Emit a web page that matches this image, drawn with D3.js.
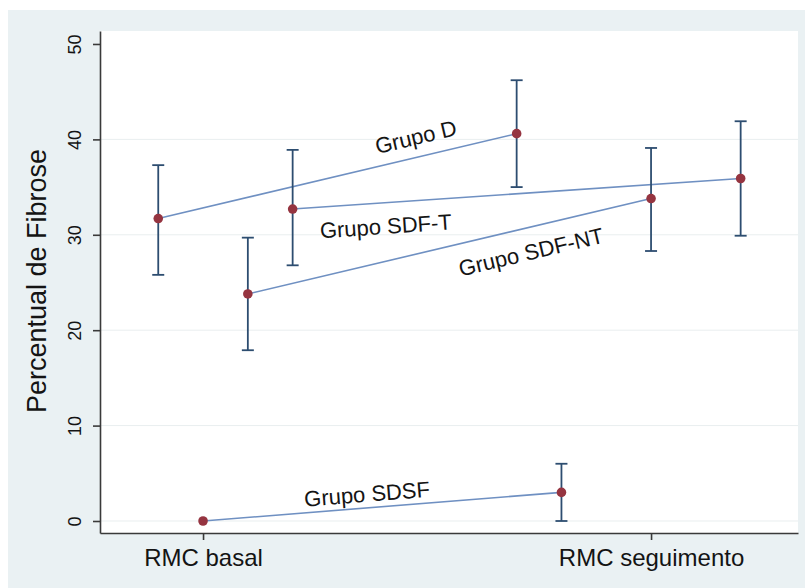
<!DOCTYPE html>
<html>
<head>
<meta charset="utf-8">
<script src="https://cdn.jsdelivr.net/npm/d3@7"></script>
<style>
  body { margin: 0; background: #fff; }
  text { font-family: "Liberation Sans", Arial, sans-serif; fill: #141414; }
</style>
</head>
<body>
<div id="chart"></div>
<script>
// groups and their values (percentual de fibrose, mean with lower/upper CI)
var groups = ["Grupo D", "Grupo SDF-T", "Grupo SDF-NT", "Grupo SDSF"];
var timeLabels = ["RMC basal", "RMC seguimento"];

// x position of each group around the two time points (1 = basal, 2 = seguimento)
var xBasal = [0.9, 1.2, 1.1, 1.0];
var xSeg   = [1.7, 2.2, 2.0, 1.8];

var meanBasal = [31.7, 32.7, 23.8, 0];
var lowBasal  = [25.8, 26.8, 17.9, 0];
var highBasal = [37.3, 38.9, 29.7, 0];

var meanSeg = [40.6, 35.9, 33.8, 3.0];
var lowSeg  = [35.0, 29.9, 28.3, 0];
var highSeg = [46.2, 41.9, 39.1, 6.0];

var yTicks = [0, 10, 20, 30, 40, 50];

// label anchor for each group (in data units)
var labelX = [1.475, 1.408, 1.732, 1.366];
var labelY = [40.25, 30.9, 28.2, 2.83];

var W = 805, H = 588;
var plot = {left: 100, right: 798, top: 31, bottom: 533};

var svg = d3.select("#chart").append("svg")
    .attr("width", W)
    .attr("height", H);

// graph region background
svg.append("rect").attr("x", 0).attr("y", 0).attr("width", W).attr("height", H).attr("fill", "#fff");
svg.append("rect").attr("x", 8).attr("y", 10).attr("width", W - 8).attr("height", H - 10).attr("fill", "#eaf1f3");
svg.append("rect")
   .attr("x", plot.left).attr("y", plot.top)
   .attr("width", plot.right - plot.left).attr("height", plot.bottom - plot.top)
   .attr("fill", "#fff");

// scales
var x = d3.scaleLinear().domain([0.770, 2.328]).range([plot.left, plot.right]);
var y = d3.scaleLinear().domain([-1.258, 51.36]).range([plot.bottom, plot.top]);

// grid lines
svg.append("g").selectAll("line")
   .data(yTicks.filter(function(d) { return d < 50; }))
   .enter().append("line")
   .attr("x1", plot.left).attr("x2", plot.right)
   .attr("y1", function(d) { return y(d); })
   .attr("y2", function(d) { return y(d); })
   .attr("stroke", "#e9eeef")
   .attr("stroke-width", 1);

// y axis
var yAxis = svg.append("g")
   .attr("transform", "translate(" + plot.left + ",0)")
   .call(d3.axisLeft(y).tickValues(yTicks).tickSizeInner(7).tickSizeOuter(0).tickPadding(0));
yAxis.select(".domain").attr("stroke", "#3a3a3a").attr("stroke-width", 1.6);
yAxis.selectAll(".tick line").attr("stroke", "#3a3a3a").attr("stroke-width", 1.6);
yAxis.selectAll(".tick text")
   .attr("x", 0).attr("y", 0).attr("dy", 0)
   .attr("text-anchor", "middle")
   .attr("transform", "translate(-19,0) rotate(-90)")
   .style("font-size", "18px")
   .style("font-family", "'Liberation Sans', Arial, sans-serif")
   .attr("fill", "#141414");

// x axis
var xAxis = svg.append("g")
   .attr("transform", "translate(0," + plot.bottom + ")")
   .call(d3.axisBottom(x).tickValues([1, 2])
          .tickFormat(function(d) { return timeLabels[d - 1]; })
          .tickSizeInner(7).tickSizeOuter(0).tickPadding(9));
xAxis.select(".domain").attr("stroke", "#3a3a3a").attr("stroke-width", 1.6);
xAxis.selectAll(".tick line").attr("stroke", "#3a3a3a").attr("stroke-width", 1.6);
xAxis.selectAll(".tick text")
   .style("font-size", "24px")
   .style("font-family", "'Liberation Sans', Arial, sans-serif")
   .attr("fill", "#141414");

// y axis title
svg.append("text")
   .attr("transform", "translate(46," + 281 + ") rotate(-90)")
   .attr("text-anchor", "middle")
   .style("font-size", "27px")
   .text("Percentual de Fibrose");

// build rows
var rows = groups.map(function(g, i) {
  return {
    name: g,
    pts: [
      {x: xBasal[i], m: meanBasal[i], lo: lowBasal[i], hi: highBasal[i]},
      {x: xSeg[i], m: meanSeg[i], lo: lowSeg[i], hi: highSeg[i]}
    ],
    lx: labelX[i], ly: labelY[i]
  };
});

// connecting lines
svg.append("g").selectAll("line")
   .data(rows).enter().append("line")
   .attr("x1", function(d) { return x(d.pts[0].x); })
   .attr("y1", function(d) { return y(d.pts[0].m); })
   .attr("x2", function(d) { return x(d.pts[1].x); })
   .attr("y2", function(d) { return y(d.pts[1].m); })
   .attr("stroke", "#6f90c2")
   .attr("stroke-width", 1.6);

// error bars
var allPts = [];
rows.forEach(function(r) { r.pts.forEach(function(p) { if (p.hi > p.lo) allPts.push(p); }); });

var eb = svg.append("g").attr("stroke", "#2d4d70").attr("stroke-width", 1.8).attr("fill", "none");
eb.selectAll(".stem").data(allPts).enter().append("line")
   .attr("x1", function(d) { return x(d.x); }).attr("x2", function(d) { return x(d.x); })
   .attr("y1", function(d) { return y(d.lo); }).attr("y2", function(d) { return y(d.hi); });
eb.selectAll(".capLo").data(allPts).enter().append("line")
   .attr("x1", function(d) { return x(d.x) - 6; }).attr("x2", function(d) { return x(d.x) + 6; })
   .attr("y1", function(d) { return y(d.lo); }).attr("y2", function(d) { return y(d.lo); });
eb.selectAll(".capHi").data(allPts).enter().append("line")
   .attr("x1", function(d) { return x(d.x) - 6; }).attr("x2", function(d) { return x(d.x) + 6; })
   .attr("y1", function(d) { return y(d.hi); }).attr("y2", function(d) { return y(d.hi); });

// mean points
var pts = [];
rows.forEach(function(r) { r.pts.forEach(function(p) { pts.push(p); }); });
svg.append("g").selectAll("circle")
   .data(pts).enter().append("circle")
   .attr("cx", function(d) { return x(d.x); })
   .attr("cy", function(d) { return y(d.m); })
   .attr("r", 4.8)
   .attr("fill", "#953440");

// group labels, rotated along their line
svg.append("g").selectAll("text")
   .data(rows).enter().append("text")
   .attr("text-anchor", "middle")
   .attr("dy", "0.35em")
   .style("font-size", "22px")
   .attr("transform", function(d) {
     var dx = x(d.pts[1].x) - x(d.pts[0].x);
     var dy = y(d.pts[1].m) - y(d.pts[0].m);
     var ang = Math.atan2(dy, dx) * 180 / Math.PI;
     return "translate(" + x(d.lx) + "," + y(d.ly) + ") rotate(" + ang + ")";
   })
   .text(function(d) { return d.name; });
</script>
</body>
</html>
